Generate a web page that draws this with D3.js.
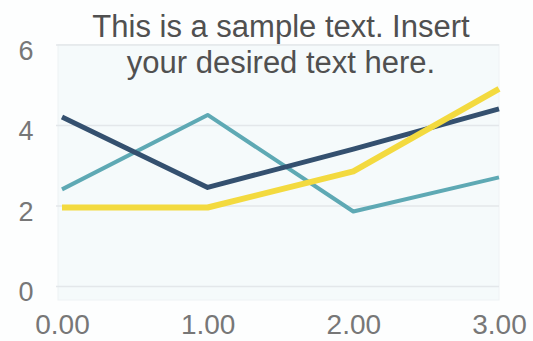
<!DOCTYPE html>
<html>
<head>
<meta charset="utf-8">
<script src="https://cdn.jsdelivr.net/npm/d3@7/dist/d3.min.js"></script>
<style>
  html, body { margin: 0; padding: 0; background: #fdfefe; }
  svg { display: block; }
</style>
</head>
<body>
<svg id="chart" width="533" height="341"></svg>
<script>
// Chart data
const xValues = [0, 1, 2, 3];
const xTickLabels = ["0.00", "1.00", "2.00", "3.00"];
const yTicks = [0, 2, 4, 6];
const seriesNavy = [4.2, 2.45, 3.4, 4.4];
const seriesTeal = [2.4, 4.25, 1.85, 2.7];
const seriesYellow = [1.95, 1.95, 2.85, 4.9];
const titleLines = ["This is a sample text. Insert", "your desired text here."];

const series = [
  { name: "teal", values: seriesTeal, color: "#5ea9b4", width: 4 },
  { name: "navy", values: seriesNavy, color: "#34506f", width: 5 },
  { name: "yellow", values: seriesYellow, color: "#f3da3f", width: 6 }
];

const svg = d3.select("#chart");
const W = 533, H = 341;
const plot = { left: 62, right: 499, top: 44.5, bottom: 286 };
const font = "Liberation Sans, Arial, sans-serif";

const x = d3.scaleLinear().domain([0, 3]).range([plot.left, plot.right]);
const y = d3.scaleLinear().domain([0, 6]).range([plot.bottom, plot.top]);

// Plot background panel
svg.append("rect")
  .attr("x", 58).attr("y", plot.top)
  .attr("width", plot.right - 58).attr("height", 300 - plot.top)
  .attr("fill", "#f5fafb")
  .attr("stroke", "#eef2f4")
  .attr("stroke-width", 1);

// Horizontal grid and y labels
const yAxis = d3.axisLeft(y).tickValues(yTicks).tickSize(-(plot.right - 56)).tickFormat(d => d);
const gy = svg.append("g").attr("transform", `translate(56,0)`).call(yAxis);
gy.select(".domain").remove();
gy.selectAll(".tick line").attr("stroke", "#e3e7ea").attr("stroke-width", 1.5);
gy.selectAll(".tick text")
  .attr("x", -30)
  .attr("dy", "0.55em")
  .attr("fill", "#777777")
  .style("font-family", font)
  .style("font-size", "27px")
  .attr("text-anchor", "middle");

// X axis labels
const xAxis = d3.axisBottom(x).tickValues(xValues).tickSize(0).tickFormat((d, i) => xTickLabels[i]);
const gx = svg.append("g").attr("transform", `translate(0,${y(0)})`).call(xAxis);
gx.select(".domain").remove();
gx.selectAll(".tick text")
  .attr("y", 0)
  .attr("dy", "1.7em")
  .attr("fill", "#777777")
  .style("font-family", font)
  .style("font-size", "28px");

// Series lines
const line = d3.line().x((d, i) => x(xValues[i])).y(d => y(d));
svg.append("g").selectAll("path")
  .data(series)
  .join("path")
  .attr("d", d => line(d.values))
  .attr("fill", "none")
  .attr("stroke", d => d.color)
  .attr("stroke-width", d => d.width)
  .attr("stroke-linejoin", "round")
  .attr("stroke-linecap", "butt");

// Text block
svg.append("g").selectAll("text")
  .data(titleLines)
  .join("text")
  .attr("x", 281)
  .attr("y", (d, i) => 37 + i * 36)
  .attr("text-anchor", "middle")
  .attr("fill", "#505050")
  .style("font-family", font)
  .style("font-size", "31px")
  .text(d => d);
</script>
</body>
</html>
